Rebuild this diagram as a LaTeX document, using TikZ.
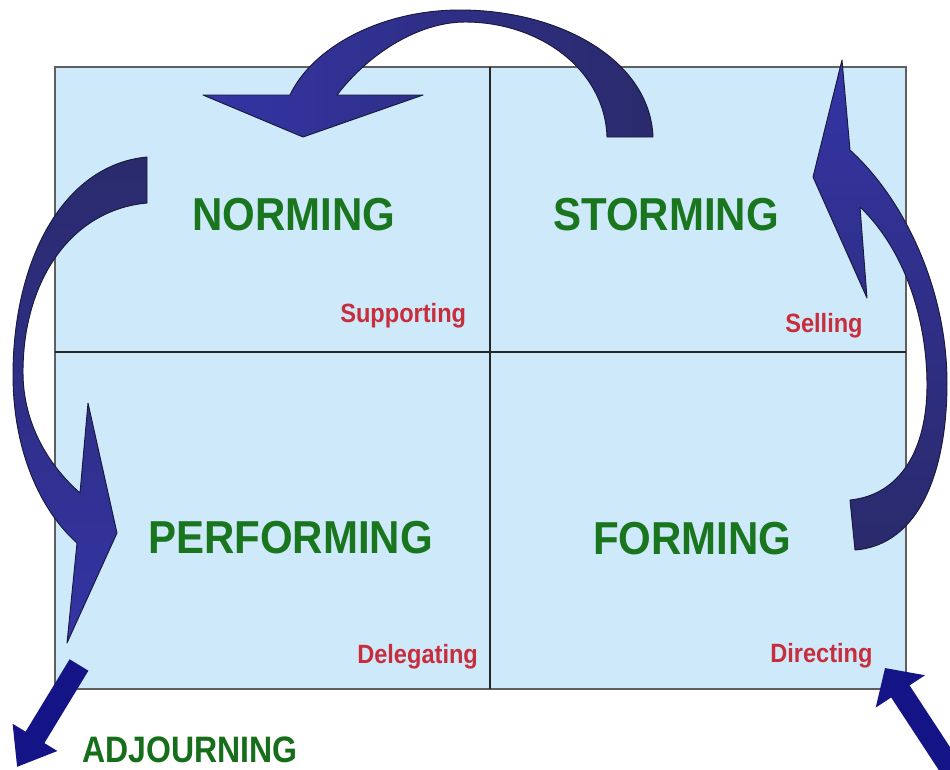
\documentclass[tikz,border=0pt]{standalone}
\usepackage{fontspec}
\setmainfont{Liberation Sans}
\usetikzlibrary{arrows.meta}
\definecolor{quadfill}{RGB}{206,233,249}
\definecolor{frameline}{RGB}{95,95,95}
\definecolor{labgreen}{RGB}{26,118,30}
\definecolor{adjgreen}{RGB}{22,110,26}
\definecolor{labred}{RGB}{200,45,60}
\definecolor{arrowA}{RGB}{52,52,165}
\definecolor{arrowB}{RGB}{42,42,108}
\definecolor{arrowedge}{RGB}{25,25,60}
\definecolor{straightblue}{RGB}{20,20,135}
\newcommand{\tallbox}[2]{\scalebox{1}[#1]{#2}}
\begin{document}
\begin{tikzpicture}[x=0.75pt,y=-0.75pt,
  bigtxt/.style={font=\fontsize{31.5}{36}\selectfont\bfseries, text=labgreen, inner sep=0pt, anchor=base west},
  subtxt/.style={font=\fontsize{17.7}{20}\selectfont\bfseries, text=labred, inner sep=0pt, anchor=base west},
  adjtxt/.style={font=\fontsize{24}{28}\selectfont\bfseries, text=adjgreen, inner sep=0pt, anchor=base west},
  curvedarrow/.style={draw=arrowedge, line width=0.7pt, line join=round},
  divline/.style={draw=black!85, line width=1.1pt},
  straightarrow/.style={draw=straightblue, line width=16.5pt}
]
\useasboundingbox (0,0) rectangle (950,769);
\fill[white] (0,0) rectangle (950,769);

% quadrant board
\draw[fill=quadfill, draw=frameline, line width=1.6pt] (55,67) rectangle (906,689);
\coordinate (vtop) at (490,67);
\coordinate (vbot) at (490,689);
\coordinate (hleft) at (55,352);
\coordinate (hright) at (906,352);
\draw[divline] (vtop) -- (vbot);
\draw[divline] (hleft) -- (hright);

% labels
\node[bigtxt] (norming) at (192,230) {\tallbox{1.1}{NORMING}};
\node[bigtxt] (storming) at (553,230) {\tallbox{1.1}{STORMING}};
\node[bigtxt] (performing) at (148,553) {\tallbox{1.1}{PERFORMING}};
\node[bigtxt] (forming) at (593,554) {\tallbox{1.1}{FORMING}};
\node[subtxt] (supporting) at (340,322) {\tallbox{1.12}{Supporting}};
\node[subtxt] (selling) at (785,332) {\tallbox{1.12}{Selling}};
\node[subtxt] (delegating) at (357,663) {\tallbox{1.12}{Delegating}};
\node[subtxt] (directing) at (770,662) {\tallbox{1.12}{Directing}};
\node[adjtxt] (adjourning) at (82,762) {\tallbox{1.15}{ADJOURNING}};

% top curved arrow: Storming -> Norming
\path[curvedarrow, left color=arrowA, right color=arrowB]
  (653,137) .. controls (650,60) and (560,10) .. (460,10)
  .. controls (380,10) and (312,48) .. (290,95)
  -- (203,95) -- (303,137) -- (423,95) -- (337,95)
  .. controls (370,52) and (420,22) .. (465,22)
  .. controls (540,22) and (605,70) .. (607,137) -- cycle;

% left curved arrow: Norming -> Performing
\path[curvedarrow, top color=arrowB, bottom color=arrowA]
  (147,157) .. controls (62,165) and (13,262) .. (13,375)
  .. controls (13,450) and (40,510) .. (77,543)
  -- (67,643) -- (117,533) -- (88,403) -- (80,493)
  .. controls (45,462) and (23,420) .. (23,372)
  .. controls (23,282) and (70,210) .. (147,203) -- cycle;

% right curved arrow: Forming -> Storming
\path[curvedarrow, top color=arrowA, bottom color=arrowB]
  (855,550) .. controls (920,545) and (947,470) .. (947,383)
  .. controls (947,290) and (905,200) .. (850,150)
  -- (842,60) -- (813,177) -- (867,298) -- (860,207)
  .. controls (905,250) and (927,320) .. (927,385)
  .. controls (927,450) and (900,495) .. (850,500) -- cycle;

% straight arrows
\coordinate (adjstart) at (79,665);
\coordinate (adjtip) at (17,767);
\draw[straightarrow, -{Triangle[width=37.5pt,length=26pt]}, fill=straightblue] (adjstart) -- (adjtip);
\coordinate (entrystart) at (965,790);
\coordinate (entrytip) at (885,668);
\draw[straightarrow, -{Triangle[width=43pt,length=21pt]}, fill=straightblue] (entrystart) -- (entrytip);
\end{tikzpicture}
\end{document}
